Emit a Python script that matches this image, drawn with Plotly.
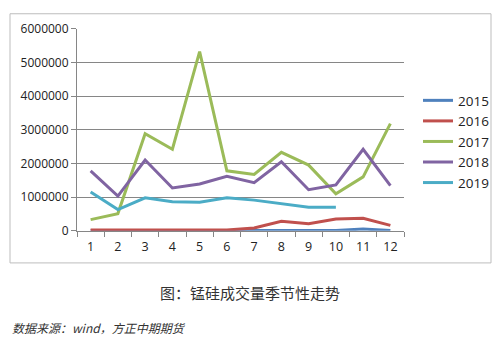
import plotly.graph_objects as go

months = ["1", "2", "3", "4", "5", "6", "7", "8", "9", "10", "11", "12"]
y2015 = [5000, 5000, 5000, 5000, 5000, 5000, 5000, 5000, 5000, 8000, 50000, 10000]
y2016 = [20000, 20000, 25000, 25000, 20000, 20000, 85000, 280000, 210000, 350000, 370000, 160000]
y2017 = [330000, 510000, 2880000, 2420000, 5320000, 1780000, 1670000, 2330000, 1950000, 1100000, 1600000, 3180000]
y2018 = [1780000, 1030000, 2100000, 1270000, 1390000, 1620000, 1430000, 2050000, 1220000, 1360000, 2420000, 1340000]
y2019 = [1150000, 630000, 980000, 860000, 850000, 980000, 910000, 800000, 700000, 700000, None, None]

series = [("2015", y2015, "#4F81BD"), ("2016", y2016, "#C0504D"), ("2017", y2017, "#9BBB59"),
          ("2018", y2018, "#8064A2"), ("2019", y2019, "#4BACC6")]

W, H = 499, 347
fig = go.Figure()
for name, vals, col in series:
    fig.add_trace(go.Scatter(x=months, y=vals, name=name, mode="lines",
                             line=dict(color=col, width=3)))

fig.update_layout(
    width=W, height=H, margin=dict(l=0, r=0, t=0, b=0),
    paper_bgcolor="white", plot_bgcolor="white",
    font=dict(family="Open Sans", size=12, color="#222"),
    showlegend=True,
    legend=dict(x=418 / W, y=1 - 80 / H, xanchor="left", yanchor="top",
                font=dict(size=13.5, color="#222"), bgcolor="rgba(0,0,0,0)"),
    xaxis=dict(domain=[77 / W, 404 / W], type="category", tickson="boundaries",
               range=[-0.5, 11.5],
               ticks="outside", ticklen=5, tickcolor="#868686", showline=True,
               linecolor="#868686", linewidth=1, showgrid=False, tickfont=dict(size=12.5),
               ticklabelstandoff=4),
    yaxis=dict(domain=[1 - 233.2 / H, 1 - 20.7 / H], range=[0, 6000000], dtick=1000000,
               ticks="outside", ticklen=5, tickcolor="#868686", showline=True,
               linecolor="#868686", showgrid=True, gridcolor="#868686", gridwidth=1,
               tickformat="d", zeroline=False, tickfont=dict(size=12)),
    shapes=[dict(type="rect", xref="paper", yref="paper", x0=10 / W, x1=491 / W,
                 y0=1 - 267 / H, y1=1 - 5 / H, line=dict(color="#bdbdbd", width=1))],
    annotations=[
        dict(text="图：锰硅成交量季节性走势", x=0.5, y=1 - 298 / H, xref="paper", yref="paper",
             xanchor="center", yanchor="middle", showarrow=False,
             font=dict(family="Noto Sans CJK SC", size=15, color="#333")),
        dict(text="<i>数据来源：wind，方正中期期货</i>", x=10 / W, y=1 - 335 / H, xref="paper",
             yref="paper", xanchor="left", yanchor="middle", showarrow=False,
             font=dict(family="Noto Sans CJK SC", size=12, color="#333")),
    ],
)
fig.write_html("out.html")
